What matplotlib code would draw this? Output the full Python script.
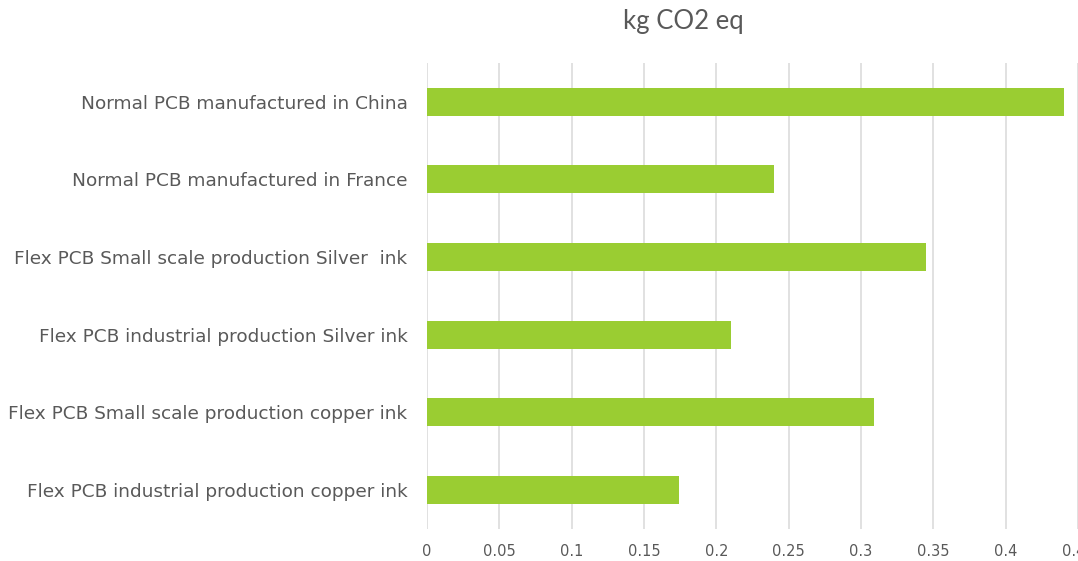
import matplotlib
matplotlib.use("Agg")
import matplotlib.pyplot as plt

# categories, bottom to top as drawn
categories = [
    "Flex PCB industrial production copper ink",
    "Flex PCB Small scale production copper ink",
    "Flex PCB industrial production Silver ink",
    "Flex PCB Small scale production Silver  ink",
    "Normal PCB manufactured in France",
    "Normal PCB manufactured in China",
]
co2_values = [0.174, 0.309, 0.210, 0.345, 0.240, 0.440]
xticks = [0, 0.05, 0.1, 0.15, 0.2, 0.25, 0.3, 0.35, 0.4, 0.45]
xtick_labels = ["0", "0.05", "0.1", "0.15", "0.2", "0.25", "0.3", "0.35", "0.4", "0.45"]

text_col = "#595959"
grid_col = "#d9d9d9"
bar_col = "#9acd32"

fig = plt.figure(figsize=(10.78, 5.61), dpi=100)
ax = fig.add_axes([0.396, 0.057, 0.604, 0.831])

ax.barh(range(len(categories)), co2_values, height=0.36, color=bar_col, zorder=3)

ax.set_xlim(0, 0.45)
ax.set_ylim(-0.5, len(categories) - 0.5)
ax.set_xticks(xticks)
ax.set_xticklabels(xtick_labels)
ax.set_yticks(range(len(categories)))
ax.set_yticklabels(categories)
ax.grid(axis="x", color=grid_col, linewidth=1.1, zorder=0)
ax.tick_params(axis="both", length=0, colors=text_col)
ax.tick_params(axis="y", labelsize=13.3, pad=14)
ax.tick_params(axis="x", labelsize=10.5, pad=11)
for s in ax.spines.values():
    s.set_visible(False)

fig.text(0.634, 0.962, "kg CO2 eq", ha="center", va="center",
         fontsize=18.5, color=text_col, family="Lato")

fig.savefig("out.png", dpi=100)
